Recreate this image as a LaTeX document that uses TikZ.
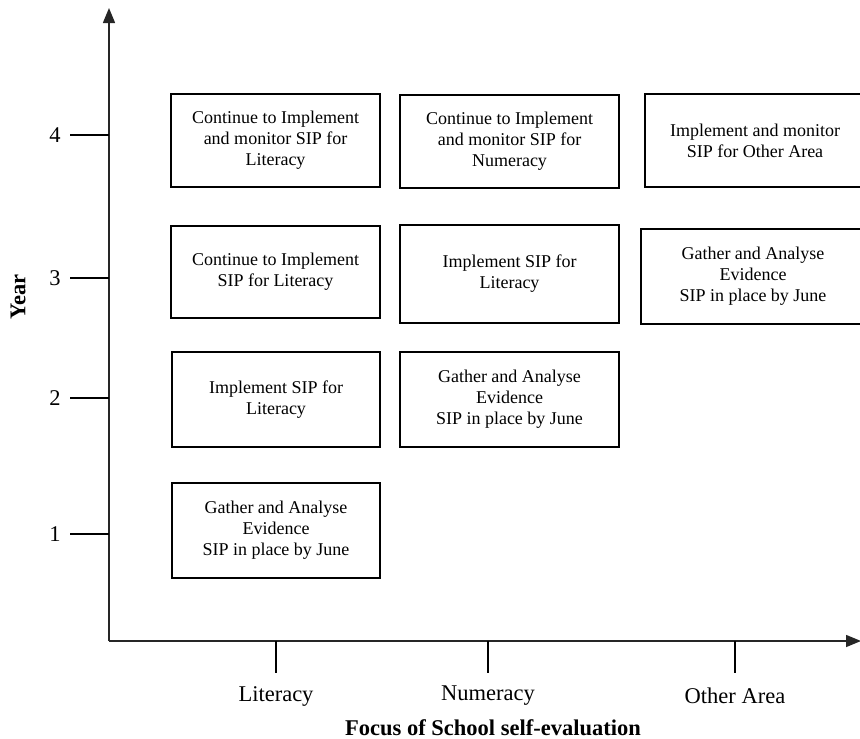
\documentclass[tikz,border=0pt]{standalone}
\usepackage{fontspec}
\setmainfont{Liberation Serif}
\usetikzlibrary{arrows.meta}
\tikzset{
  plan/.style={draw, line width=1.8pt, align=center, inner sep=2pt,
    font=\fontsize{18}{21}\selectfont},
  axislabel/.style={font=\fontsize{22.5}{26}\selectfont},
  axisline/.style={line width=1.5pt, black!85, -{Triangle[length=15pt,width=12pt]}},
}
\begin{document}
\begin{tikzpicture}[x=1pt, y=-1pt]
    \useasboundingbox (0,0) rectangle (860,739);
    \coordinate (origin) at (109,641);
    \coordinate (ytop) at (109,8);
    \coordinate (xend) at (861,641);
    \draw[axisline] (origin) -- (ytop);
    \draw[axisline] (origin) -- (xend);
    \foreach \yr/\ypos in {1/534,2/398,3/278,4/135} {
        \node[axislabel] (yr\yr) at (55,\ypos) {\yr};
        \draw[line width=1.3pt] (70,\ypos) -- (109,\ypos);
    }
    \foreach \nm/\xpos/\txt in {lit/276/Literacy,num/488/Numeracy,oth/735/Other Area} {
        \draw[line width=1.3pt] (\xpos,641) -- (\xpos,673);
        \node[axislabel] (\nm) at (\xpos,696) {\txt};
    }
    \node[font=\fontsize{22.5}{26}\selectfont\bfseries] (focus) at (493,728) {Focus of School self-evaluation};
    \node[font=\fontsize{22.5}{26}\selectfont\bfseries, rotate=90] (year) at (18,297) {Year};
    \node[plan, minimum width=209pt, minimum height=93pt] (lit4) at (275.5,140.5) {Continue to Implement\\and monitor SIP for\\Literacy};
    \node[plan, minimum width=219pt, minimum height=93pt] (num4) at (509.5,141.5) {Continue to Implement\\and monitor SIP for\\Numeracy};
    \node[plan, minimum width=220pt, minimum height=93pt] (oth4) at (755,140.5) {Implement and monitor\\SIP for Other Area};
    \node[plan, minimum width=209pt, minimum height=92pt] (lit3) at (275.5,272) {Continue to Implement\\SIP for Literacy};
    \node[plan, minimum width=219pt, minimum height=98pt] (num3) at (509.5,274) {Implement SIP for\\Literacy};
    \node[plan, minimum width=224pt, minimum height=95pt] (oth3) at (753,276.5) {Gather and Analyse\\Evidence\\SIP in place by June};
    \node[plan, minimum width=208pt, minimum height=95pt] (lit2) at (276,399.5) {Implement SIP for\\Literacy};
    \node[plan, minimum width=219pt, minimum height=95pt] (num2) at (509.5,399.5) {Gather and Analyse\\Evidence\\SIP in place by June};
    \node[plan, minimum width=208pt, minimum height=95pt] (lit1) at (276,530.5) {Gather and Analyse\\Evidence\\SIP in place by June};
\end{tikzpicture}
\end{document}
